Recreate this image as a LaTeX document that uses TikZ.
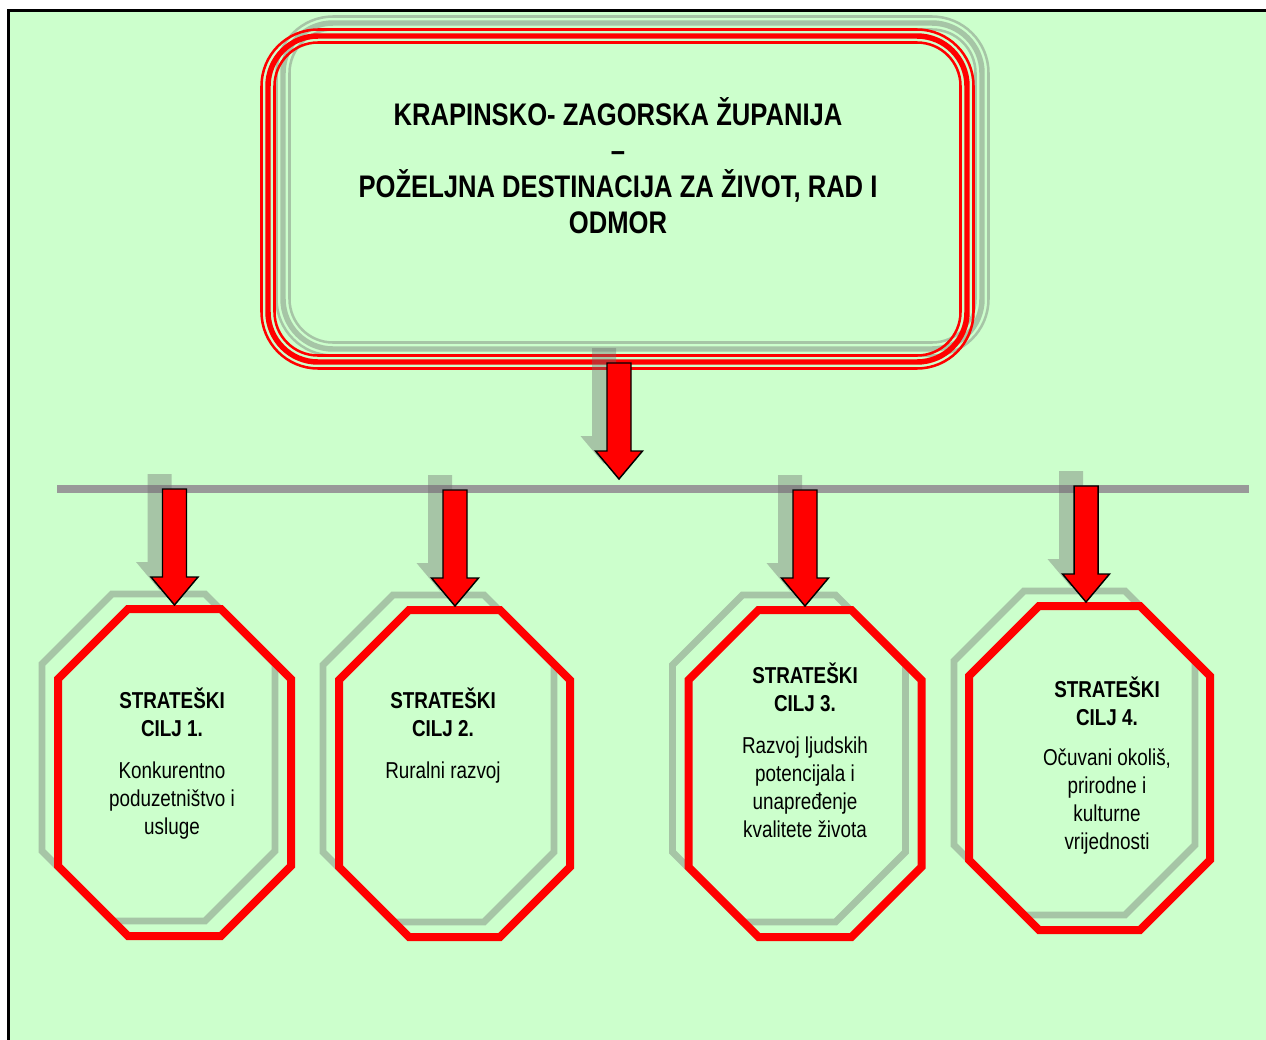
\documentclass[tikz,border=0pt]{standalone}
\usepackage{fontspec}
\setmainfont{Liberation Sans}
\newfontfamily\narrowfont[FakeStretch=0.82]{Liberation Sans}
\definecolor{bggreen}{RGB}{204,255,204}
\definecolor{barcol}{RGB}{153,153,153}
\definecolor{shadowcol}{RGB}{110,110,110}
\newcommand\octopath[4]{({#1-#3+70},{#2-#4}) -- ({#1+#3-70},{#2-#4}) -- ({#1+#3},{#2-#4+70}) -- ({#1+#3},{#2+#4-70}) -- ({#1+#3-70},{#2+#4}) -- ({#1-#3+70},{#2+#4}) -- ({#1-#3},{#2+#4-70}) -- ({#1-#3},{#2-#4+70}) -- cycle}
\tikzset{
  blkarrow/.pic={\path[pic actions] (0,0) -- (-23.5,-28) -- (-12,-28) -- (-12,-116) -- (12,-116) -- (12,-28) -- (23.5,-28) -- cycle;},
  redarrow/.style={fill=red, draw=black, line width=1.1pt, line join=miter},
  shadowarrow/.style={fill=shadowcol, fill opacity=0.4, draw=none},
  redocto/.style={draw=red, line width=6pt, line join=miter},
  shadowocto/.style={draw=shadowcol, draw opacity=0.4, line width=5.2pt, line join=miter},
  redthin/.style={draw=red, line width=1.9pt},
  redthick/.style={draw=red, line width=4.1pt},
  greythin/.style={draw=shadowcol, draw opacity=0.4, line width=1.9pt},
  greythick/.style={draw=shadowcol, draw opacity=0.4, line width=4.1pt},
  titletext/.style={font=\narrowfont\bfseries\fontsize{23.4}{27}\selectfont, align=center, inner sep=0pt, anchor=north},
  goaltext/.style={font=\narrowfont\fontsize{17.25}{21}\selectfont, align=center, inner sep=0pt, anchor=north},
}
\begin{document}
\begin{tikzpicture}[x=0.75pt, y=-0.75pt]
\useasboundingbox (0,0) rectangle (1266,1039);
% background and frame
\fill[bggreen] (8.5,10.5) rectangle (1285,1055);
\draw[black, line width=2.25pt] (7,10.5) -- (1285,10.5);
\draw[black, line width=2.25pt] (8.5,9) -- (8.5,1055);

% horizontal bar
\coordinate (barL) at (57,489);
\coordinate (barR) at (1249,489);
\draw[barcol, line width=6pt] (barL) -- (barR);

% title box shadow
\begin{scope}[shift={(15,-13)}]
  \draw[greythin, rounded corners=42.4pt] (261.5,29.5) rectangle (973.5,368.5);
  \draw[greythick, rounded corners=37.5pt] (268,36) rectangle (967,362);
  \draw[greythin, rounded corners=32.6pt] (274.5,42.5) rectangle (960.5,355.5);
\end{scope}
% title box
\draw[redthin, rounded corners=42.4pt] (261.5,29.5) rectangle (973.5,368.5);
\draw[redthick, rounded corners=37.5pt] (268,36) rectangle (967,362);
\draw[redthin, rounded corners=32.6pt] (274.5,42.5) rectangle (960.5,355.5);

\node[titletext] (title) at (618,97) {KRAPINSKO- ZAGORSKA ŽUPANIJA\\–\\POŽELJNA DESTINACIJA ZA ŽIVOT, RAD I\\ODMOR};

% arrow tips
\coordinate (tip0) at (619,479);
\coordinate (tip1) at (174.5,605);
\coordinate (tip2) at (455,606);
\coordinate (tip3) at (805,606);
\coordinate (tip4) at (1086,602);

% shadows of octagons
\draw[shadowocto] \octopath{158.5}{757.5}{116.5}{163.5};
\draw[shadowocto] \octopath{438.5}{758.5}{115.5}{163.5};
\draw[shadowocto] \octopath{789}{758.5}{116.5}{163.5};
\draw[shadowocto] \octopath{1074.5}{753}{120.5}{162};

% shadows of arrows
\foreach \t in {tip0,tip1,tip2,tip3,tip4}{
  \pic[shadowarrow, shift={(-15,-15)}] at (\t) {blkarrow};
}

% red octagons
\draw[redocto] \octopath{174.5}{772.5}{116.5}{163.5};
\draw[redocto] \octopath{454.5}{773.5}{115.5}{163.5};
\draw[redocto] \octopath{805}{773.5}{116.5}{163.5};
\draw[redocto] \octopath{1089.5}{768}{120.5}{162};

% red arrows
\foreach \t in {tip0,tip1,tip2,tip3,tip4}{
  \pic[redarrow] at (\t) {blkarrow};
}

% goal texts
\node[goaltext] (g1) at (172,688) {\textbf{STRATEŠKI}\\\textbf{CILJ 1.}\\[10.5pt]Konkurentno\\poduzetništvo i\\usluge};
\node[goaltext] (g2) at (443,688) {\textbf{STRATEŠKI}\\\textbf{CILJ 2.}\\[10.5pt]Ruralni razvoj};
\node[goaltext] (g3) at (805,663) {\textbf{STRATEŠKI}\\\textbf{CILJ 3.}\\[10.5pt]Razvoj ljudskih\\potencijala i\\unapređenje\\kvalitete života};
\node[goaltext] (g4) at (1107,677) {\textbf{STRATEŠKI}\\\textbf{CILJ 4.}\\[9pt]Očuvani okoliš,\\prirodne i\\kulturne\\vrijednosti};
\end{tikzpicture}
\end{document}
